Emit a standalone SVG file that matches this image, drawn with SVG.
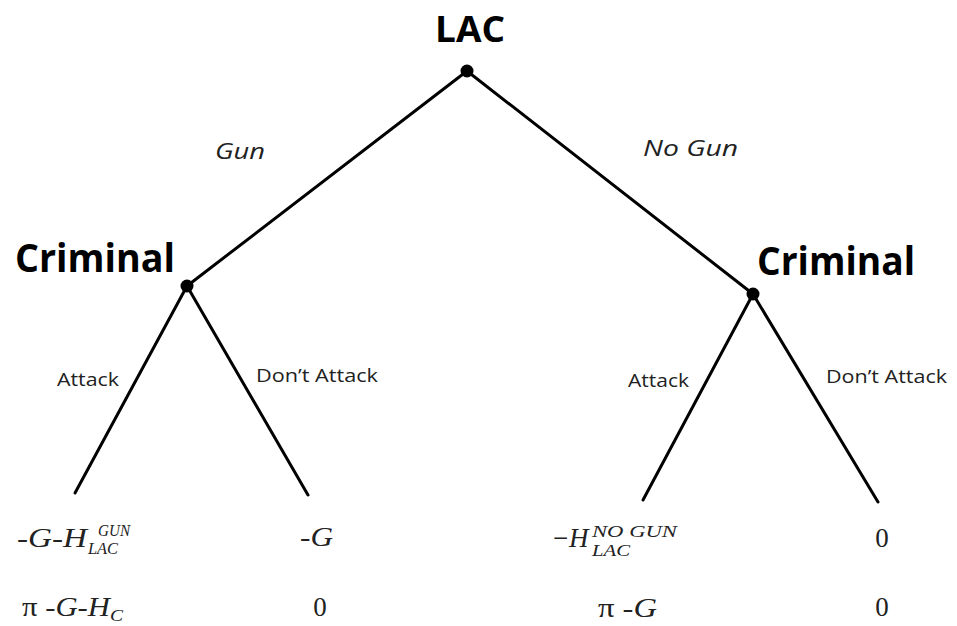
<svg xmlns="http://www.w3.org/2000/svg" width="957" height="626" viewBox="0 0 957 626">
<style>
.edge{stroke:#000;stroke-width:3;stroke-linecap:round;fill:none}
.dot{fill:#000}
.player{font-family:"Open Sans","DejaVu Sans",sans-serif;font-weight:bold;fill:#000}
.act{font-family:"Open Sans","DejaVu Sans",sans-serif;font-style:italic;font-size:22px;fill:#222}
.small{font-family:"Open Sans","DejaVu Sans",sans-serif;font-size:19px;fill:#222}
.pay{font-family:"Liberation Serif","Times New Roman",serif;font-size:27px;fill:#222}
.it{font-style:italic}
.sub{font-family:"Liberation Serif",serif;font-style:italic;font-size:16px;fill:#222}
</style>
<rect width="957" height="626" fill="#fff"/>
<g id="connectors">
<line class="edge" x1="467" y1="71" x2="187" y2="286"/>
<line class="edge" x1="467" y1="71" x2="753" y2="294"/>
<line class="edge" x1="187" y1="286" x2="75" y2="493"/>
<line class="edge" x1="187" y1="286" x2="308" y2="495"/>
<line class="edge" x1="753" y1="294" x2="643" y2="500"/>
<line class="edge" x1="753" y1="294" x2="878" y2="502"/>
<text class="act" x="215" y="159" textLength="50" lengthAdjust="spacingAndGlyphs">Gun</text>
<text class="act" x="643" y="156" textLength="95" lengthAdjust="spacingAndGlyphs">No Gun</text>
<text class="small" x="57" y="386" textLength="62" lengthAdjust="spacingAndGlyphs">Attack</text>
<text class="small" x="256" y="382" textLength="122" lengthAdjust="spacingAndGlyphs">Don’t Attack</text>
<text class="small" x="628" y="387" textLength="61" lengthAdjust="spacingAndGlyphs">Attack</text>
<text class="small" x="826" y="383" textLength="121" lengthAdjust="spacingAndGlyphs">Don’t Attack</text>
</g>
<g id="node-lac">
<circle class="dot" cx="467" cy="71" r="6.5"/>
<text class="player" x="435" y="42" font-size="35" textLength="70" lengthAdjust="spacingAndGlyphs">LAC</text>
</g>
<g id="node-criminal-left">
<circle class="dot" cx="187" cy="286" r="6.5"/>
<text class="player" x="15" y="272" font-size="40" textLength="160" lengthAdjust="spacingAndGlyphs">Criminal</text>
</g>
<g id="node-criminal-right">
<circle class="dot" cx="753" cy="294" r="6.5"/>
<text class="player" x="757" y="275" font-size="40" textLength="158" lengthAdjust="spacingAndGlyphs">Criminal</text>
</g>
<g id="payoff-1">
<text class="pay" x="17" y="547" textLength="70" lengthAdjust="spacingAndGlyphs">-<tspan class="it">G</tspan>-<tspan class="it">H</tspan></text>
<text class="sub" x="98" y="536" textLength="32" lengthAdjust="spacingAndGlyphs">GUN</text>
<text class="sub" x="88" y="554" textLength="30" lengthAdjust="spacingAndGlyphs">LAC</text>
<text class="pay" x="22" y="616" textLength="88" lengthAdjust="spacingAndGlyphs">π -<tspan class="it">G</tspan>-<tspan class="it">H</tspan></text>
<text class="sub" x="110" y="621" textLength="13" lengthAdjust="spacingAndGlyphs">C</text>
</g>
<g id="payoff-2">
<text class="pay" x="300" y="546" textLength="33" lengthAdjust="spacingAndGlyphs">-<tspan class="it">G</tspan></text>
<text class="pay" x="320" y="616" text-anchor="middle">0</text>
</g>
<g id="payoff-3">
<text class="pay" x="553" y="547">−</text>
<text class="pay it" x="569" y="547">H</text>
<text class="sub" x="592" y="537" textLength="85" lengthAdjust="spacingAndGlyphs">NO GUN</text>
<text class="sub" x="592" y="556" textLength="38" lengthAdjust="spacingAndGlyphs">LAC</text>
<text class="pay" x="598" y="617" textLength="59" lengthAdjust="spacingAndGlyphs">π -<tspan class="it">G</tspan></text>
</g>
<g id="payoff-4">
<text class="pay" x="882" y="547" text-anchor="middle">0</text>
<text class="pay" x="882" y="616" text-anchor="middle">0</text>
</g>
</svg>
